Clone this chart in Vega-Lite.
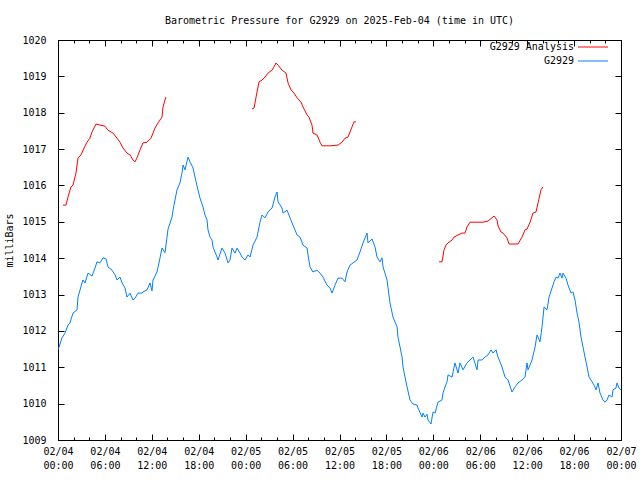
{
  "$schema": "https://vega.github.io/schema/vega-lite/v6.json",
  "width": 563,
  "height": 400,
  "autosize": {"type": "none"},
  "padding": {"left": 58, "top": 40, "right": 19, "bottom": 40},
  "background": "white",
  "title": {"text": "Barometric Pressure for G2929 on 2025-Feb-04 (time in UTC)", "font": "DejaVu Sans Mono", "fontSize": 10, "fontWeight": "normal", "color": "black", "anchor": "middle", "offset": 9},
  "config": {
    "view": {"stroke": "black", "strokeWidth": 1},
    "axis": {"labelFont": "DejaVu Sans Mono", "labelFontSize": 10, "titleFont": "DejaVu Sans Mono", "titleFontSize": 10, "titleFontWeight": "normal", "labelColor": "black", "titleColor": "black", "domainColor": "black", "tickColor": "black", "grid": false}
  },
  "datasets": {
    "blue": [
      {"h":0.05,"p":1011.50,"s":"G2929"},{"h":0.51,"p":1011.81,"s":"G2929"},{"h":0.90,"p":1011.94,"s":"G2929"},{"h":1.28,"p":1012.16,"s":"G2929"},{"h":1.53,"p":1012.22,"s":"G2929"},{"h":1.92,"p":1012.49,"s":"G2929"},{"h":2.43,"p":1012.58,"s":"G2929"},{"h":2.56,"p":1012.93,"s":"G2929"},{"h":3.07,"p":1013.32,"s":"G2929"},{"h":3.20,"p":1013.40,"s":"G2929"},{"h":3.45,"p":1013.32,"s":"G2929"},{"h":3.84,"p":1013.59,"s":"G2929"},{"h":4.35,"p":1013.51,"s":"G2929"},{"h":4.73,"p":1013.73,"s":"G2929"},{"h":4.99,"p":1013.90,"s":"G2929"},{"h":5.37,"p":1013.87,"s":"G2929"},{"h":5.76,"p":1014.01,"s":"G2929"},{"h":6.14,"p":1013.98,"s":"G2929"},{"h":6.39,"p":1013.76,"s":"G2929"},{"h":6.91,"p":1013.67,"s":"G2929"},{"h":7.29,"p":1013.54,"s":"G2929"},{"h":7.55,"p":1013.40,"s":"G2929"},{"h":7.93,"p":1013.48,"s":"G2929"},{"h":8.19,"p":1013.32,"s":"G2929"},{"h":8.57,"p":1013.18,"s":"G2929"},{"h":8.82,"p":1012.93,"s":"G2929"},{"h":9.21,"p":1013.04,"s":"G2929"},{"h":9.59,"p":1012.85,"s":"G2929"},{"h":9.85,"p":1012.90,"s":"G2929"},{"h":10.23,"p":1013.04,"s":"G2929"},{"h":10.74,"p":1013.04,"s":"G2929"},{"h":10.87,"p":1013.07,"s":"G2929"},{"h":11.38,"p":1013.13,"s":"G2929"},{"h":11.77,"p":1013.32,"s":"G2929"},{"h":12.02,"p":1013.10,"s":"G2929"},{"h":12.15,"p":1013.40,"s":"G2929"},{"h":12.66,"p":1013.62,"s":"G2929"},{"h":13.05,"p":1014.01,"s":"G2929"},{"h":13.30,"p":1014.28,"s":"G2929"},{"h":13.68,"p":1014.15,"s":"G2929"},{"h":13.94,"p":1014.58,"s":"G2929"},{"h":14.07,"p":1014.80,"s":"G2929"},{"h":14.58,"p":1015.13,"s":"G2929"},{"h":14.71,"p":1015.32,"s":"G2929"},{"h":14.96,"p":1015.60,"s":"G2929"},{"h":15.22,"p":1015.88,"s":"G2929"},{"h":15.60,"p":1016.07,"s":"G2929"},{"h":15.86,"p":1016.34,"s":"G2929"},{"h":15.99,"p":1016.56,"s":"G2929"},{"h":16.24,"p":1016.43,"s":"G2929"},{"h":16.63,"p":1016.78,"s":"G2929"},{"h":16.88,"p":1016.65,"s":"G2929"},{"h":17.27,"p":1016.48,"s":"G2929"},{"h":17.52,"p":1016.23,"s":"G2929"},{"h":17.90,"p":1015.88,"s":"G2929"},{"h":18.16,"p":1015.65,"s":"G2929"},{"h":18.54,"p":1015.41,"s":"G2929"},{"h":18.80,"p":1015.19,"s":"G2929"},{"h":19.06,"p":1015.05,"s":"G2929"},{"h":19.18,"p":1014.78,"s":"G2929"},{"h":19.44,"p":1014.58,"s":"G2929"},{"h":19.70,"p":1014.50,"s":"G2929"},{"h":19.82,"p":1014.31,"s":"G2929"},{"h":20.34,"p":1014.03,"s":"G2929"},{"h":20.46,"p":1013.95,"s":"G2929"},{"h":20.97,"p":1014.28,"s":"G2929"},{"h":21.36,"p":1014.14,"s":"G2929"},{"h":21.74,"p":1013.87,"s":"G2929"},{"h":22.00,"p":1013.95,"s":"G2929"},{"h":22.25,"p":1014.28,"s":"G2929"},{"h":22.64,"p":1014.14,"s":"G2929"},{"h":22.89,"p":1014.28,"s":"G2929"},{"h":23.28,"p":1014.14,"s":"G2929"},{"h":23.53,"p":1014.03,"s":"G2929"},{"h":23.92,"p":1013.95,"s":"G2929"},{"h":24.30,"p":1014.09,"s":"G2929"},{"h":24.56,"p":1014.03,"s":"G2929"},{"h":24.94,"p":1014.36,"s":"G2929"},{"h":25.45,"p":1014.58,"s":"G2929"},{"h":25.83,"p":1014.99,"s":"G2929"},{"h":26.09,"p":1015.19,"s":"G2929"},{"h":26.47,"p":1015.11,"s":"G2929"},{"h":26.86,"p":1015.27,"s":"G2929"},{"h":27.37,"p":1015.38,"s":"G2929"},{"h":27.75,"p":1015.68,"s":"G2929"},{"h":28.01,"p":1015.82,"s":"G2929"},{"h":28.14,"p":1015.55,"s":"G2929"},{"h":28.65,"p":1015.38,"s":"G2929"},{"h":28.78,"p":1015.24,"s":"G2929"},{"h":29.29,"p":1015.32,"s":"G2929"},{"h":29.67,"p":1015.11,"s":"G2929"},{"h":30.05,"p":1014.91,"s":"G2929"},{"h":30.57,"p":1014.64,"s":"G2929"},{"h":30.95,"p":1014.58,"s":"G2929"},{"h":31.33,"p":1014.36,"s":"G2929"},{"h":31.85,"p":1014.28,"s":"G2929"},{"h":31.97,"p":1014.09,"s":"G2929"},{"h":32.23,"p":1013.76,"s":"G2929"},{"h":32.61,"p":1013.62,"s":"G2929"},{"h":33.12,"p":1013.67,"s":"G2929"},{"h":33.51,"p":1013.59,"s":"G2929"},{"h":33.89,"p":1013.48,"s":"G2929"},{"h":34.40,"p":1013.26,"s":"G2929"},{"h":34.79,"p":1013.18,"s":"G2929"},{"h":35.04,"p":1013.04,"s":"G2929"},{"h":35.43,"p":1013.26,"s":"G2929"},{"h":35.81,"p":1013.45,"s":"G2929"},{"h":36.32,"p":1013.45,"s":"G2929"},{"h":36.71,"p":1013.35,"s":"G2929"},{"h":36.96,"p":1013.62,"s":"G2929"},{"h":37.35,"p":1013.81,"s":"G2929"},{"h":37.73,"p":1013.87,"s":"G2929"},{"h":38.24,"p":1013.95,"s":"G2929"},{"h":38.62,"p":1014.17,"s":"G2929"},{"h":39.01,"p":1014.42,"s":"G2929"},{"h":39.52,"p":1014.69,"s":"G2929"},{"h":39.65,"p":1014.42,"s":"G2929"},{"h":40.16,"p":1014.53,"s":"G2929"},{"h":40.54,"p":1014.31,"s":"G2929"},{"h":40.80,"p":1014.03,"s":"G2929"},{"h":41.18,"p":1013.90,"s":"G2929"},{"h":41.44,"p":1014.01,"s":"G2929"},{"h":41.57,"p":1013.76,"s":"G2929"},{"h":42.08,"p":1013.40,"s":"G2929"},{"h":42.46,"p":1012.77,"s":"G2929"},{"h":42.84,"p":1012.38,"s":"G2929"},{"h":43.36,"p":1012.11,"s":"G2929"},{"h":43.48,"p":1011.83,"s":"G2929"},{"h":43.74,"p":1011.56,"s":"G2929"},{"h":44.00,"p":1011.28,"s":"G2929"},{"h":44.12,"p":1011.01,"s":"G2929"},{"h":44.38,"p":1010.73,"s":"G2929"},{"h":44.64,"p":1010.46,"s":"G2929"},{"h":45.02,"p":1010.10,"s":"G2929"},{"h":45.40,"p":1009.99,"s":"G2929"},{"h":45.91,"p":1009.96,"s":"G2929"},{"h":46.04,"p":1009.88,"s":"G2929"},{"h":46.55,"p":1009.63,"s":"G2929"},{"h":46.68,"p":1009.74,"s":"G2929"},{"h":46.94,"p":1009.63,"s":"G2929"},{"h":47.19,"p":1009.71,"s":"G2929"},{"h":47.32,"p":1009.55,"s":"G2929"},{"h":47.70,"p":1009.44,"s":"G2929"},{"h":47.96,"p":1009.77,"s":"G2929"},{"h":48.22,"p":1009.74,"s":"G2929"},{"h":48.60,"p":1010.04,"s":"G2929"},{"h":49.11,"p":1010.10,"s":"G2929"},{"h":49.24,"p":1010.29,"s":"G2929"},{"h":49.49,"p":1010.46,"s":"G2929"},{"h":49.75,"p":1010.60,"s":"G2929"},{"h":49.88,"p":1010.79,"s":"G2929"},{"h":50.39,"p":1010.73,"s":"G2929"},{"h":50.77,"p":1011.12,"s":"G2929"},{"h":51.16,"p":1010.84,"s":"G2929"},{"h":51.41,"p":1011.12,"s":"G2929"},{"h":51.80,"p":1010.93,"s":"G2929"},{"h":52.31,"p":1011.12,"s":"G2929"},{"h":52.69,"p":1011.20,"s":"G2929"},{"h":53.08,"p":1011.28,"s":"G2929"},{"h":53.59,"p":1010.93,"s":"G2929"},{"h":53.72,"p":1011.20,"s":"G2929"},{"h":54.23,"p":1011.20,"s":"G2929"},{"h":54.61,"p":1011.28,"s":"G2929"},{"h":54.99,"p":1011.34,"s":"G2929"},{"h":55.38,"p":1011.48,"s":"G2929"},{"h":55.63,"p":1011.39,"s":"G2929"},{"h":56.02,"p":1011.48,"s":"G2929"},{"h":56.27,"p":1011.28,"s":"G2929"},{"h":56.78,"p":1011.01,"s":"G2929"},{"h":57.17,"p":1010.73,"s":"G2929"},{"h":57.55,"p":1010.65,"s":"G2929"},{"h":58.06,"p":1010.32,"s":"G2929"},{"h":58.45,"p":1010.46,"s":"G2929"},{"h":58.83,"p":1010.57,"s":"G2929"},{"h":59.34,"p":1010.65,"s":"G2929"},{"h":59.73,"p":1010.73,"s":"G2929"},{"h":59.98,"p":1011.12,"s":"G2929"},{"h":60.11,"p":1010.93,"s":"G2929"},{"h":60.62,"p":1011.20,"s":"G2929"},{"h":61.01,"p":1011.56,"s":"G2929"},{"h":61.26,"p":1011.89,"s":"G2929"},{"h":61.64,"p":1011.70,"s":"G2929"},{"h":61.90,"p":1012.11,"s":"G2929"},{"h":62.16,"p":1012.66,"s":"G2929"},{"h":62.54,"p":1012.58,"s":"G2929"},{"h":62.80,"p":1012.93,"s":"G2929"},{"h":63.18,"p":1013.18,"s":"G2929"},{"h":63.43,"p":1013.35,"s":"G2929"},{"h":63.69,"p":1013.48,"s":"G2929"},{"h":63.94,"p":1013.45,"s":"G2929"},{"h":64.20,"p":1013.59,"s":"G2929"},{"h":64.46,"p":1013.45,"s":"G2929"},{"h":64.58,"p":1013.59,"s":"G2929"},{"h":64.97,"p":1013.45,"s":"G2929"},{"h":65.22,"p":1013.26,"s":"G2929"},{"h":65.61,"p":1013.04,"s":"G2929"},{"h":65.86,"p":1013.07,"s":"G2929"},{"h":66.12,"p":1012.85,"s":"G2929"},{"h":66.38,"p":1012.49,"s":"G2929"},{"h":66.63,"p":1012.24,"s":"G2929"},{"h":66.89,"p":1011.83,"s":"G2929"},{"h":67.14,"p":1011.56,"s":"G2929"},{"h":67.40,"p":1011.28,"s":"G2929"},{"h":67.66,"p":1011.01,"s":"G2929"},{"h":67.91,"p":1010.73,"s":"G2929"},{"h":68.30,"p":1010.60,"s":"G2929"},{"h":68.55,"p":1010.51,"s":"G2929"},{"h":68.81,"p":1010.38,"s":"G2929"},{"h":69.06,"p":1010.57,"s":"G2929"},{"h":69.32,"p":1010.29,"s":"G2929"},{"h":69.70,"p":1010.10,"s":"G2929"},{"h":69.96,"p":1010.04,"s":"G2929"},{"h":70.21,"p":1010.10,"s":"G2929"},{"h":70.47,"p":1010.24,"s":"G2929"},{"h":70.85,"p":1010.18,"s":"G2929"},{"h":70.98,"p":1010.38,"s":"G2929"},{"h":71.36,"p":1010.43,"s":"G2929"},{"h":71.49,"p":1010.57,"s":"G2929"},{"h":71.75,"p":1010.43,"s":"G2929"},{"h":72.0,"p":1010.38,"s":"G2929"}
    ],
    "red": [
      {"h":0.64,"p":1015.46,"s":"G2929 Analysis","seg":1},{"h":1.02,"p":1015.46,"s":"G2929 Analysis","seg":1},{"h":1.28,"p":1015.68,"s":"G2929 Analysis","seg":1},{"h":1.66,"p":1015.96,"s":"G2929 Analysis","seg":1},{"h":1.92,"p":1016.01,"s":"G2929 Analysis","seg":1},{"h":2.30,"p":1016.34,"s":"G2929 Analysis","seg":1},{"h":2.56,"p":1016.76,"s":"G2929 Analysis","seg":1},{"h":2.94,"p":1016.84,"s":"G2929 Analysis","seg":1},{"h":3.33,"p":1017.03,"s":"G2929 Analysis","seg":1},{"h":3.71,"p":1017.19,"s":"G2929 Analysis","seg":1},{"h":4.09,"p":1017.30,"s":"G2929 Analysis","seg":1},{"h":4.35,"p":1017.47,"s":"G2929 Analysis","seg":1},{"h":4.86,"p":1017.69,"s":"G2929 Analysis","seg":1},{"h":5.37,"p":1017.66,"s":"G2929 Analysis","seg":1},{"h":6.01,"p":1017.63,"s":"G2929 Analysis","seg":1},{"h":6.39,"p":1017.52,"s":"G2929 Analysis","seg":1},{"h":7.03,"p":1017.44,"s":"G2929 Analysis","seg":1},{"h":7.55,"p":1017.30,"s":"G2929 Analysis","seg":1},{"h":7.93,"p":1017.19,"s":"G2929 Analysis","seg":1},{"h":8.31,"p":1017.03,"s":"G2929 Analysis","seg":1},{"h":8.82,"p":1016.89,"s":"G2929 Analysis","seg":1},{"h":9.21,"p":1016.84,"s":"G2929 Analysis","seg":1},{"h":9.59,"p":1016.70,"s":"G2929 Analysis","seg":1},{"h":9.85,"p":1016.65,"s":"G2929 Analysis","seg":1},{"h":10.10,"p":1016.76,"s":"G2929 Analysis","seg":1},{"h":10.49,"p":1016.98,"s":"G2929 Analysis","seg":1},{"h":10.87,"p":1017.17,"s":"G2929 Analysis","seg":1},{"h":11.38,"p":1017.19,"s":"G2929 Analysis","seg":1},{"h":11.89,"p":1017.30,"s":"G2929 Analysis","seg":1},{"h":12.15,"p":1017.44,"s":"G2929 Analysis","seg":1},{"h":12.41,"p":1017.58,"s":"G2929 Analysis","seg":1},{"h":12.79,"p":1017.72,"s":"G2929 Analysis","seg":1},{"h":13.30,"p":1017.88,"s":"G2929 Analysis","seg":1},{"h":13.43,"p":1018.16,"s":"G2929 Analysis","seg":1},{"h":13.68,"p":1018.35,"s":"G2929 Analysis","seg":1},{"h":13.81,"p":1018.43,"s":"G2929 Analysis","seg":1},
      {"h":24.81,"p":1018.10,"s":"G2929 Analysis","seg":2},{"h":25.07,"p":1018.13,"s":"G2929 Analysis","seg":2},{"h":25.45,"p":1018.57,"s":"G2929 Analysis","seg":2},{"h":25.71,"p":1018.85,"s":"G2929 Analysis","seg":2},{"h":26.09,"p":1018.90,"s":"G2929 Analysis","seg":2},{"h":26.47,"p":1018.98,"s":"G2929 Analysis","seg":2},{"h":26.86,"p":1019.09,"s":"G2929 Analysis","seg":2},{"h":27.37,"p":1019.17,"s":"G2929 Analysis","seg":2},{"h":27.62,"p":1019.26,"s":"G2929 Analysis","seg":2},{"h":27.88,"p":1019.37,"s":"G2929 Analysis","seg":2},{"h":28.14,"p":1019.31,"s":"G2929 Analysis","seg":2},{"h":28.65,"p":1019.17,"s":"G2929 Analysis","seg":2},{"h":29.16,"p":1019.09,"s":"G2929 Analysis","seg":2},{"h":29.42,"p":1018.82,"s":"G2929 Analysis","seg":2},{"h":29.80,"p":1018.63,"s":"G2929 Analysis","seg":2},{"h":30.18,"p":1018.54,"s":"G2929 Analysis","seg":2},{"h":30.57,"p":1018.41,"s":"G2929 Analysis","seg":2},{"h":31.08,"p":1018.29,"s":"G2929 Analysis","seg":2},{"h":31.33,"p":1018.16,"s":"G2929 Analysis","seg":2},{"h":31.85,"p":1017.94,"s":"G2929 Analysis","seg":2},{"h":32.10,"p":1017.88,"s":"G2929 Analysis","seg":2},{"h":32.48,"p":1017.66,"s":"G2929 Analysis","seg":2},{"h":32.61,"p":1017.44,"s":"G2929 Analysis","seg":2},{"h":33.12,"p":1017.39,"s":"G2929 Analysis","seg":2},{"h":33.51,"p":1017.19,"s":"G2929 Analysis","seg":2},{"h":33.76,"p":1017.09,"s":"G2929 Analysis","seg":2},{"h":34.79,"p":1017.09,"s":"G2929 Analysis","seg":2},{"h":35.81,"p":1017.11,"s":"G2929 Analysis","seg":2},{"h":36.32,"p":1017.19,"s":"G2929 Analysis","seg":2},{"h":36.71,"p":1017.30,"s":"G2929 Analysis","seg":2},{"h":37.09,"p":1017.33,"s":"G2929 Analysis","seg":2},{"h":37.60,"p":1017.61,"s":"G2929 Analysis","seg":2},{"h":37.86,"p":1017.75,"s":"G2929 Analysis","seg":2},{"h":38.11,"p":1017.75,"s":"G2929 Analysis","seg":2},
      {"h":48.73,"p":1013.90,"s":"G2929 Analysis","seg":3},{"h":49.11,"p":1013.90,"s":"G2929 Analysis","seg":3},{"h":49.37,"p":1014.23,"s":"G2929 Analysis","seg":3},{"h":49.62,"p":1014.36,"s":"G2929 Analysis","seg":3},{"h":49.88,"p":1014.42,"s":"G2929 Analysis","seg":3},{"h":50.39,"p":1014.50,"s":"G2929 Analysis","seg":3},{"h":50.65,"p":1014.58,"s":"G2929 Analysis","seg":3},{"h":51.16,"p":1014.64,"s":"G2929 Analysis","seg":3},{"h":51.67,"p":1014.69,"s":"G2929 Analysis","seg":3},{"h":52.05,"p":1014.69,"s":"G2929 Analysis","seg":3},{"h":52.31,"p":1014.86,"s":"G2929 Analysis","seg":3},{"h":52.69,"p":1014.99,"s":"G2929 Analysis","seg":3},{"h":54.35,"p":1014.99,"s":"G2929 Analysis","seg":3},{"h":54.99,"p":1015.02,"s":"G2929 Analysis","seg":3},{"h":55.51,"p":1015.11,"s":"G2929 Analysis","seg":3},{"h":55.76,"p":1015.16,"s":"G2929 Analysis","seg":3},{"h":56.15,"p":1015.05,"s":"G2929 Analysis","seg":3},{"h":56.27,"p":1014.89,"s":"G2929 Analysis","seg":3},{"h":56.66,"p":1014.72,"s":"G2929 Analysis","seg":3},{"h":56.91,"p":1014.69,"s":"G2929 Analysis","seg":3},{"h":57.42,"p":1014.56,"s":"G2929 Analysis","seg":3},{"h":57.68,"p":1014.39,"s":"G2929 Analysis","seg":3},{"h":58.83,"p":1014.39,"s":"G2929 Analysis","seg":3},{"h":59.34,"p":1014.58,"s":"G2929 Analysis","seg":3},{"h":59.73,"p":1014.78,"s":"G2929 Analysis","seg":3},{"h":59.98,"p":1014.80,"s":"G2929 Analysis","seg":3},{"h":60.37,"p":1014.99,"s":"G2929 Analysis","seg":3},{"h":60.75,"p":1015.24,"s":"G2929 Analysis","seg":3},{"h":61.13,"p":1015.27,"s":"G2929 Analysis","seg":3},{"h":61.39,"p":1015.52,"s":"G2929 Analysis","seg":3},{"h":61.77,"p":1015.88,"s":"G2929 Analysis","seg":3},{"h":62.03,"p":1015.96,"s":"G2929 Analysis","seg":3}
    ]
  },
  "layer": [
    {
      "data": {"name": "red"},
      "mark": {"type": "line", "strokeWidth": 1},
      "encoding": {
        "x": {"field": "h", "type": "quantitative", "scale": {"domain": [0, 72], "nice": false, "zero": false},
          "axis": {"orient": "bottom", "title": null, "values": [0,2,4,6,8,10,12,14,16,18,20,22,24,26,28,30,32,34,36,38,40,42,44,46,48,50,52,54,56,58,60,62,64,66,68,70,72],
            "tickSize": {"condition": {"test": "datum.value % 6 === 0", "value": -6}, "value": -3},
            "labelExpr": "datum.value % 6 === 0 ? ['02/0' + (4 + floor(datum.value / 24)), (datum.value % 24 < 10 ? '0' : '') + (datum.value % 24) + ':00'] : ''",
            "labelPadding": 12, "labelLineHeight": 14, "labelAlign": "center", "labelBaseline": "top", "labelFlush": false, "labelOverlap": false}},
        "y": {"field": "p", "type": "quantitative", "scale": {"domain": [1009, 1020], "nice": false, "zero": false},
          "axis": {"orient": "left", "title": "milliBars", "format": "d", "values": [1009,1010,1011,1012,1013,1014,1015,1016,1017,1018,1019,1020], "tickSize": -6, "labelPadding": 18, "titlePadding": 7, "labelFlush": false, "labelOverlap": false}},
        "color": {"field": "s", "type": "nominal", "scale": {"domain": ["G2929 Analysis", "G2929"], "range": ["#ff0000", "#0080ff"]},
          "legend": {"orient": "none", "legendX": 530, "legendY": 2, "title": null, "symbolType": "M-3,-0.1H3V0.1H-3Z", "symbolSize": 100, "symbolStrokeWidth": 0, "labelFont": "DejaVu Sans Mono", "labelFontSize": 10, "labelColor": "black", "labelAlign": "right", "labelOffset": -24, "rowPadding": 4, "padding": 0,
            "encode": {"symbols": {"update": {"stroke": {"value": "transparent"}, "fill": {"scale": "color", "field": "value"}}}}}},
        "detail": {"field": "seg", "type": "nominal"}
      }
    },
    {
      "data": {"name": "blue"},
      "mark": {"type": "line", "strokeWidth": 1},
      "encoding": {
        "x": {"field": "h", "type": "quantitative",
          "axis": {"orient": "top", "title": null, "values": [0,2,4,6,8,10,12,14,16,18,20,22,24,26,28,30,32,34,36,38,40,42,44,46,48,50,52,54,56,58,60,62,64,66,68,70,72],
            "tickSize": {"condition": {"test": "datum.value % 6 === 0", "value": -6}, "value": -3}, "labels": false}},
        "y": {"field": "p", "type": "quantitative",
          "axis": {"orient": "right", "title": null, "values": [1009,1010,1011,1012,1013,1014,1015,1016,1017,1018,1019,1020], "tickSize": -6, "labels": false}},
        "color": {"field": "s", "type": "nominal"}
      }
    }
  ],
  "resolve": {"axis": {"x": "independent", "y": "independent"}}
}
